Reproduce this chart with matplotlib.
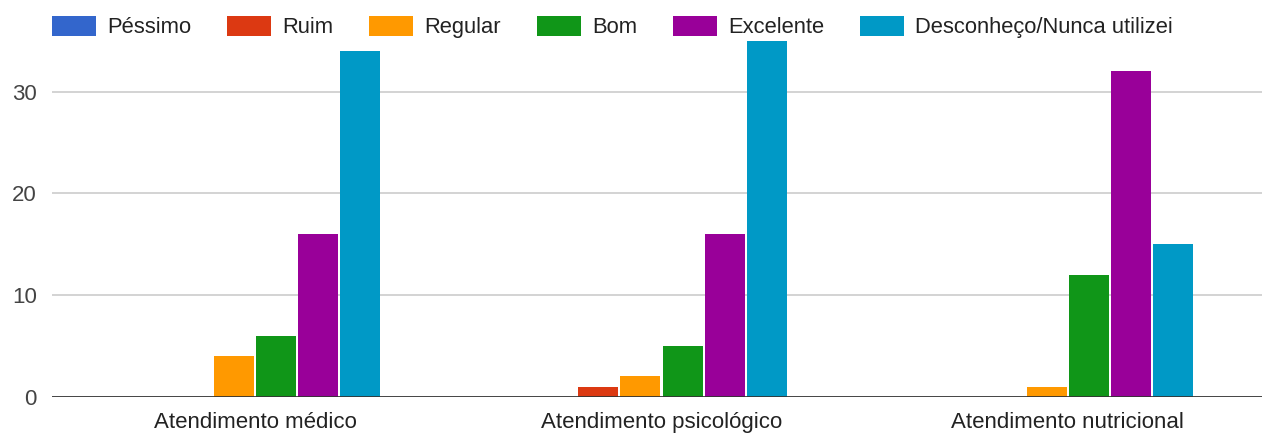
import matplotlib
matplotlib.use("Agg")
import matplotlib.pyplot as plt
import numpy as np

categories = ["Atendimento médico", "Atendimento psicológico", "Atendimento nutricional"]
series_names = ["Péssimo", "Ruim", "Regular", "Bom", "Excelente", "Desconheço/Nunca utilizei"]
pessimo = [0, 0, 0]
ruim = [0, 1, 0]
regular = [4, 2, 1]
bom = [6, 5, 12]
excelente = [16, 16, 32]
desconheco = [34, 35, 15]
y_ticks = [0, 10, 20, 30]

colors = ["#3366cc", "#dc3912", "#ff9900", "#109618", "#990099", "#0099c6"]
series = [pessimo, ruim, regular, bom, excelente, desconheco]

plt.rcParams['font.family'] = ['Liberation Sans', 'DejaVu Sans']

W, H = 1262, 437
fig = plt.figure(figsize=(W / 100, H / 100), dpi=100)
ax = fig.add_axes([52 / W, (H - 396.7) / H, 1219 / W, 356 / H])

x = np.arange(len(categories))
slot = 42 / 406
bw = 40 / 406
for i, (name, vals, c) in enumerate(zip(series_names, series, colors)):
    ax.bar(x + (i - 2.5) * slot, vals, width=bw, color=c, label=name, zorder=3)

ax.set_xlim(-0.5, 2.5)
ax.set_ylim(0, 35)
ax.set_yticks(y_ticks)
ax.set_xticks(x)
ax.set_xticklabels(categories, fontsize=16, color="#222222")
ax.tick_params(axis='y', labelsize=16, labelcolor="#444444", length=0, pad=11)
ax.tick_params(axis='x', length=0, pad=11)
for s in ax.spines.values():
    s.set_visible(False)
for t in [10, 20, 30]:
    ax.axhline(t, color="#cccccc", lw=1.2, zorder=1)
ax.axhline(0, color="#333333", lw=2, zorder=4)

handles, labels = ax.get_legend_handles_labels()
lfs = 15.8
fs = lfs * 100 / 72
fig.legend(handles, labels, loc='center left', bbox_to_anchor=(52 / W, 1 - 27 / H),
           ncol=6, frameon=False, fontsize=lfs, borderpad=0, borderaxespad=0,
           handlelength=44 / fs, handleheight=22 / fs, handletextpad=11 / fs,
           columnspacing=36 / fs, labelcolor="#222222")

fig.savefig("out.png", dpi=100)
